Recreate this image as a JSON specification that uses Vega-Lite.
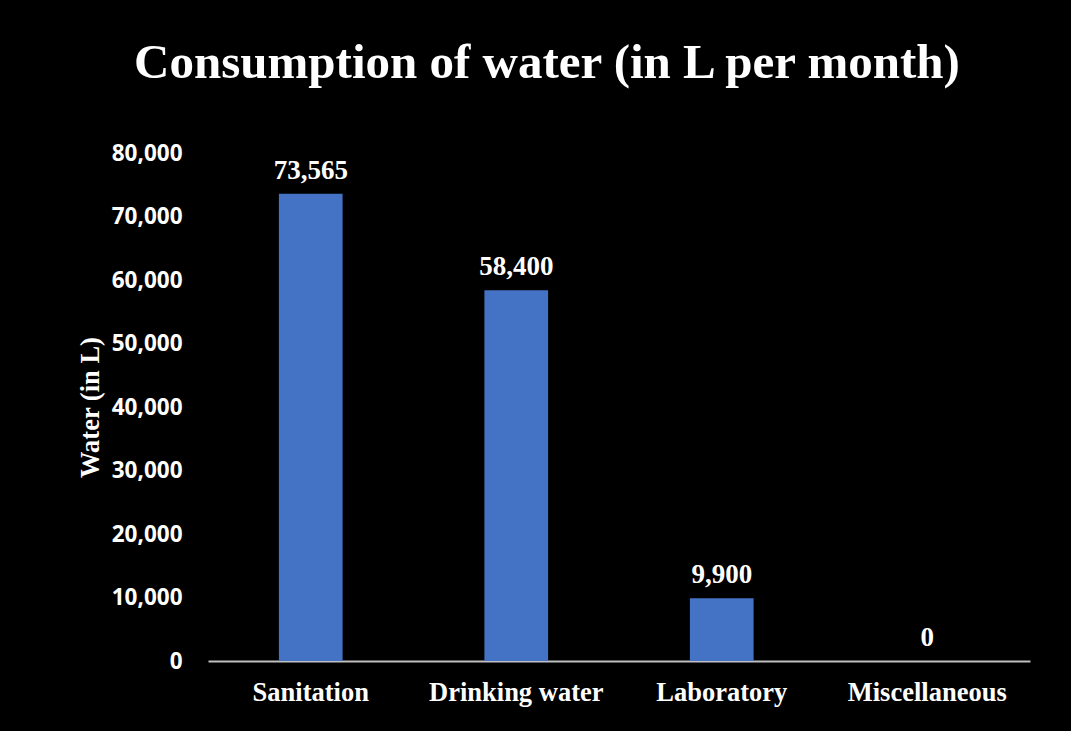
{
  "$schema": "https://vega.github.io/schema/vega-lite/v6.json",
  "width": 822,
  "height": 508,
  "autosize": {"type": "none"},
  "padding": {"left": 208, "top": 153, "right": 41, "bottom": 70},
  "background": "#000000",
  "data": {
    "values": [
      {"category": "Sanitation", "water": 73565},
      {"category": "Drinking water", "water": 58400},
      {"category": "Laboratory", "water": 9900},
      {"category": "Miscellaneous", "water": 0}
    ]
  },
  "title": {
    "text": "Consumption of water  (in L per month)",
    "font": "Liberation Serif",
    "fontSize": 49,
    "fontWeight": "bold",
    "color": "#ffffff",
    "anchor": "middle",
    "dx": -72,
    "baseline": "alphabetic",
    "offset": 15
  },
  "config": {
    "view": {"stroke": null},
    "axis": {"grid": false}
  },
  "encoding": {
    "x": {
      "field": "category",
      "type": "nominal",
      "sort": null,
      "scale": {"paddingInner": 0.69, "paddingOuter": 0.345},
      "axis": {
        "title": null,
        "labelAngle": 0,
        "labelFont": "Liberation Serif",
        "labelFontSize": 26.5,
        "labelFontWeight": "bold",
        "labelColor": "#ffffff",
        "labelBaseline": "alphabetic",
        "labelPadding": 39,
        "ticks": false,
        "tickSize": 0,
        "domainColor": "#bfbfbf",
        "domainWidth": 2
      }
    },
    "y": {
      "field": "water",
      "type": "quantitative",
      "scale": {"domain": [0, 80000], "nice": false},
      "axis": {
        "title": "Water (in L)",
        "titleFont": "Liberation Serif",
        "titleFontSize": 26.5,
        "titleFontWeight": "bold",
        "titleColor": "#ffffff",
        "titleAngle": -90,
        "titleAlign": "center",
        "titleBaseline": "middle",
        "titleX": -118,
        "titleY": 254,
        "values": [0, 10000, 20000, 30000, 40000, 50000, 60000, 70000, 80000],
        "format": ",.0f",
        "labelFont": "Open Sans",
        "labelFontSize": 22.5,
        "labelFontWeight": "bold",
        "labelColor": "#ffffff",
        "labelPadding": 26,
        "ticks": false,
        "tickSize": 0,
        "domain": false
      }
    }
  },
  "layer": [
    {"mark": {"type": "bar", "color": "#4472C4"}},
    {
      "mark": {
        "type": "text",
        "font": "Liberation Serif",
        "fontSize": 27,
        "fontWeight": "bold",
        "color": "#ffffff",
        "baseline": "alphabetic",
        "dy": -15
      },
      "encoding": {
        "text": {"field": "water", "type": "quantitative", "format": ",.0f"}
      }
    }
  ]
}
